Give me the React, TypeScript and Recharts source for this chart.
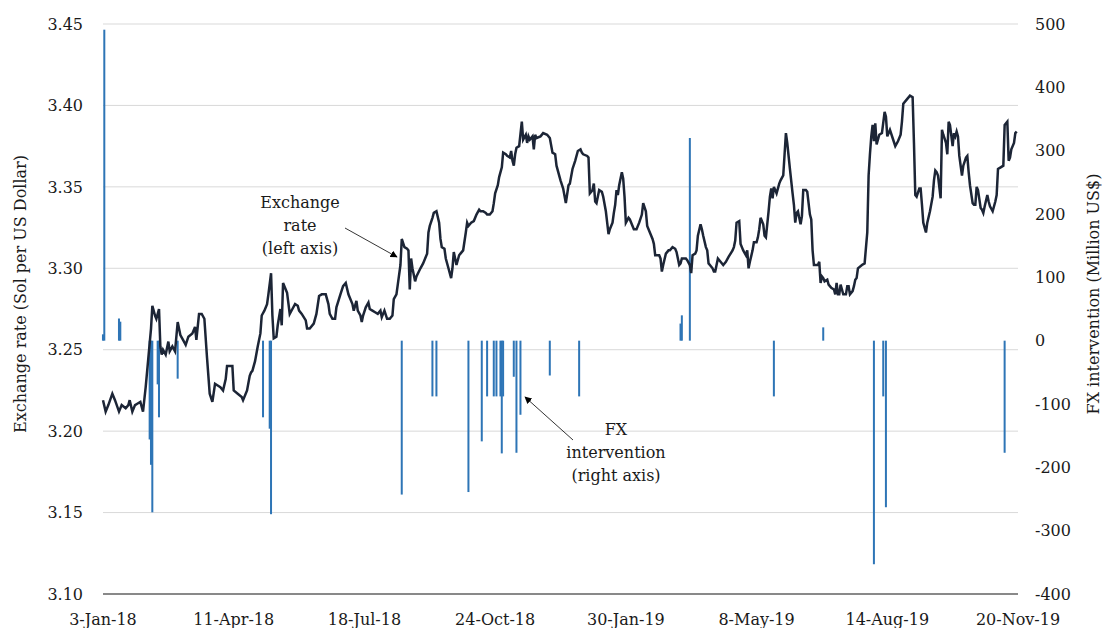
import { ComposedChart, Line, Bar, XAxis, YAxis, CartesianGrid } from 'recharts';

// x positions are days counted from 3-Jan-18
const tickDays = [0, 98, 196, 294, 392, 490, 588, 686];
const tickLabels = ['3-Jan-18', '11-Apr-18', '18-Jul-18', '24-Oct-18', '30-Jan-19', '8-May-19', '14-Aug-19', '20-Nov-19'];
const rateTicks = [3.1, 3.15, 3.2, 3.25, 3.3, 3.35, 3.4, 3.45];
const fxTicks = [-400, -300, -200, -100, 0, 100, 200, 300, 400, 500];

// [day, Sol per US Dollar]
const exchangeRate: [number, number][] = [
  [0, 3.219], [2, 3.212], [4, 3.216], [7, 3.223], [9, 3.219], [12, 3.212], [14, 3.216], [17, 3.214],
  [19, 3.216], [20, 3.219], [22, 3.212], [24, 3.216], [26, 3.217], [28, 3.218], [30, 3.212], [32, 3.227],
  [34, 3.245], [36, 3.263], [37, 3.277], [39, 3.271], [40, 3.269], [42, 3.275], [43, 3.252], [44, 3.247],
  [45, 3.25], [47, 3.247], [49, 3.255], [50, 3.249], [52, 3.252], [54, 3.249], [56, 3.267], [58, 3.259],
  [60, 3.256], [62, 3.253], [64, 3.258], [67, 3.26], [69, 3.264], [70, 3.256], [72, 3.272], [74, 3.272],
  [76, 3.269], [78, 3.245], [80, 3.223], [82, 3.218], [84, 3.229], [86, 3.228], [88, 3.227], [90, 3.225],
  [92, 3.232], [93, 3.24], [97, 3.24], [98, 3.225], [101, 3.223], [104, 3.221], [105, 3.219], [108, 3.225],
  [110, 3.234], [111, 3.236], [112, 3.237], [114, 3.243], [116, 3.252], [118, 3.26], [119, 3.271], [121, 3.274],
  [123, 3.278], [124, 3.284], [126, 3.297], [127, 3.271], [128, 3.257], [130, 3.258], [131, 3.265], [133, 3.275],
  [134, 3.265], [135, 3.291], [137, 3.287], [138, 3.285], [140, 3.272], [142, 3.275], [144, 3.278], [146, 3.277],
  [147, 3.274], [149, 3.272], [152, 3.268], [153, 3.263], [155, 3.263], [158, 3.266], [160, 3.272], [162, 3.283],
  [164, 3.284], [167, 3.284], [169, 3.278], [170, 3.272], [172, 3.269], [174, 3.269], [175, 3.276], [178, 3.284],
  [180, 3.289], [182, 3.291], [184, 3.284], [187, 3.278], [188, 3.274], [190, 3.28], [191, 3.274], [193, 3.271],
  [194, 3.267], [195, 3.271], [197, 3.276], [199, 3.279], [200, 3.275], [202, 3.274], [204, 3.273], [206, 3.272],
  [208, 3.274], [209, 3.27], [211, 3.274], [213, 3.269], [215, 3.269], [217, 3.271], [218, 3.281], [220, 3.284],
  [221, 3.29], [223, 3.302], [224, 3.318], [226, 3.313], [228, 3.312], [229, 3.311], [230, 3.287], [231, 3.306],
  [232, 3.3], [234, 3.292], [235, 3.295], [238, 3.3], [240, 3.303], [243, 3.309], [244, 3.322], [245, 3.326],
  [247, 3.331], [248, 3.334], [250, 3.335], [252, 3.328], [253, 3.318], [254, 3.313], [256, 3.312], [257, 3.306],
  [259, 3.3], [261, 3.294], [262, 3.3], [263, 3.31], [265, 3.302], [267, 3.308], [268, 3.309], [270, 3.311],
  [272, 3.322], [273, 3.328], [274, 3.326], [276, 3.328], [278, 3.329], [280, 3.333], [282, 3.336], [283, 3.335],
  [285, 3.335], [287, 3.334], [288, 3.333], [290, 3.333], [292, 3.335], [293, 3.34], [294, 3.346], [296, 3.351],
  [297, 3.356], [299, 3.362], [300, 3.371], [302, 3.37], [303, 3.369], [305, 3.368], [306, 3.372], [307, 3.366],
  [308, 3.363], [309, 3.37], [310, 3.374], [312, 3.375], [314, 3.39], [315, 3.379], [317, 3.382], [318, 3.377],
  [319, 3.381], [320, 3.379], [322, 3.381], [323, 3.373], [324, 3.382], [325, 3.38], [328, 3.381], [330, 3.383],
  [333, 3.382], [335, 3.38], [337, 3.371], [339, 3.37], [340, 3.363], [343, 3.354], [345, 3.349], [347, 3.34],
  [349, 3.351], [350, 3.352], [352, 3.361], [354, 3.366], [356, 3.372], [358, 3.373], [359, 3.371], [360, 3.37],
  [363, 3.369], [364, 3.368], [365, 3.346], [367, 3.348], [368, 3.352], [369, 3.341], [370, 3.34], [372, 3.348],
  [374, 3.347], [375, 3.344], [377, 3.335], [378, 3.328], [379, 3.321], [380, 3.324], [382, 3.328], [383, 3.334],
  [384, 3.339], [385, 3.348], [386, 3.345], [387, 3.351], [389, 3.359], [390, 3.355], [391, 3.344], [392, 3.328],
  [394, 3.331], [395, 3.33], [397, 3.326], [398, 3.324], [400, 3.324], [402, 3.328], [404, 3.333], [405, 3.34],
  [407, 3.335], [408, 3.326], [410, 3.322], [412, 3.318], [413, 3.315], [414, 3.308], [417, 3.308], [418, 3.306],
  [419, 3.298], [420, 3.302], [422, 3.309], [424, 3.311], [425, 3.311], [427, 3.313], [429, 3.312], [430, 3.31],
  [432, 3.302], [433, 3.303], [434, 3.306], [437, 3.306], [438, 3.305], [440, 3.302], [441, 3.297], [442, 3.308],
  [444, 3.309], [445, 3.311], [446, 3.32], [448, 3.327], [449, 3.324], [450, 3.32], [452, 3.313], [453, 3.311],
  [454, 3.303], [455, 3.302], [457, 3.3], [458, 3.298], [459, 3.298], [460, 3.302], [461, 3.306], [463, 3.304],
  [465, 3.302], [467, 3.304], [469, 3.307], [472, 3.311], [473, 3.313], [474, 3.317], [475, 3.328], [477, 3.329],
  [478, 3.315], [480, 3.311], [482, 3.308], [483, 3.311], [484, 3.3], [485, 3.304], [487, 3.311], [488, 3.316],
  [490, 3.316], [491, 3.319], [492, 3.324], [493, 3.331], [495, 3.327], [496, 3.32], [497, 3.319], [499, 3.335],
  [500, 3.344], [501, 3.349], [502, 3.343], [503, 3.35], [505, 3.346], [507, 3.352], [508, 3.354], [510, 3.357],
  [511, 3.37], [512, 3.383], [513, 3.377], [515, 3.361], [517, 3.346], [518, 3.339], [519, 3.328], [520, 3.334],
  [521, 3.335], [523, 3.327], [524, 3.332], [525, 3.348], [527, 3.348], [528, 3.347], [530, 3.333], [531, 3.33],
  [532, 3.311], [533, 3.302], [534, 3.302], [536, 3.302], [537, 3.304], [538, 3.291], [539, 3.295], [540, 3.294],
  [541, 3.292], [543, 3.293], [544, 3.29], [546, 3.288], [548, 3.287], [549, 3.284], [550, 3.291], [551, 3.284],
  [552, 3.284], [553, 3.29], [555, 3.284], [557, 3.284], [558, 3.289], [559, 3.289], [560, 3.284], [562, 3.286],
  [563, 3.289], [564, 3.293], [565, 3.294], [566, 3.3], [569, 3.302], [571, 3.303], [573, 3.322], [574, 3.357],
  [575, 3.37], [576, 3.381], [577, 3.388], [578, 3.378], [579, 3.389], [580, 3.376], [582, 3.382], [584, 3.383],
  [586, 3.396], [587, 3.393], [588, 3.381], [590, 3.385], [592, 3.38], [594, 3.375], [596, 3.378], [598, 3.382],
  [599, 3.39], [600, 3.401], [603, 3.404], [605, 3.406], [607, 3.405], [608, 3.377], [609, 3.345], [610, 3.344],
  [612, 3.349], [613, 3.349], [614, 3.339], [615, 3.328], [617, 3.322], [618, 3.328], [620, 3.335], [622, 3.344],
  [623, 3.354], [624, 3.36], [625, 3.359], [626, 3.357], [628, 3.343], [629, 3.385], [630, 3.382], [632, 3.377],
  [633, 3.37], [634, 3.39], [635, 3.388], [637, 3.375], [638, 3.383], [639, 3.381], [640, 3.384], [641, 3.381],
  [642, 3.369], [644, 3.357], [645, 3.363], [647, 3.368], [648, 3.369], [649, 3.359], [650, 3.351], [652, 3.34],
  [653, 3.339], [654, 3.339], [655, 3.35], [656, 3.348], [658, 3.337], [659, 3.336], [660, 3.334], [661, 3.338],
  [663, 3.345], [664, 3.341], [665, 3.338], [667, 3.335], [669, 3.341], [670, 3.345], [671, 3.361], [673, 3.362],
  [675, 3.363], [676, 3.388], [678, 3.39], [679, 3.366], [680, 3.368], [681, 3.373], [683, 3.377], [684, 3.383],
  [685, 3.384],
];

// [day, Million US$]
const fxIntervention: [number, number][] = [
  [0, 10], [1, 491], [12, 35], [13, 30], [35, -156], [36, -196], [37, -271], [41, -69], [42, -121], [56, -60],
  [120, -121], [125, -139], [126, -274], [224, -243], [247, -88], [250, -88], [274, -239], [284, -159],
  [288, -88], [293, -88], [295, -88], [298, -88], [299, -178], [300, -88], [308, -57], [310, -177], [313, -117],
  [335, -55], [357, -88], [433, 27], [434, 40], [440, 320], [503, -88], [540, 21], [578, -353], [585, -88],
  [587, -263], [676, -177],
];

type Row = { day: number; rate?: number; fx?: number };
const byDay = new Map<number, Row>();
exchangeRate.forEach(([day, rate]) => byDay.set(day, { day, rate }));
fxIntervention.forEach(([day, fx]) => {
  const row = byDay.get(day) ?? { day };
  row.fx = fx;
  byDay.set(day, row);
});
const data = Array.from(byDay.values()).sort((a, b) => a.day - b.day);

const font = 'DejaVu Serif';
const tickStyle = { fontFamily: font, fontSize: 16, fill: '#1a1a1a' };

const FxBar = (props: any) => {
  const { x, y, width, height, fill } = props;
  if (height == null || isNaN(height)) return null;
  const top = Math.min(y, y + height);
  return <rect x={x + width / 2 - 1} y={top} width={2} height={Math.abs(height)} fill={fill} />;
};

const App = () => {
  return (
    <div style={{ position: 'absolute', left: 0, top: 0, width: 1102, height: 628, background: '#fff' }}>
      <ComposedChart width={1102} height={628} data={data} margin={{ top: 24, right: 24, bottom: 4, left: 43 }}>
        <CartesianGrid yAxisId="left" vertical={false} stroke="#d9d9d9" />
        <XAxis
          dataKey="day"
          type="number"
          domain={[0, 686]}
          ticks={tickDays}
          tickFormatter={(d: number) => tickLabels[tickDays.indexOf(d)]}
          height={30}
          padding={{ left: 0, right: 0 }}
          tickLine={false}
          tickSize={18}
          tickMargin={2}
          axisLine={{ stroke: '#262626' }}
          tick={tickStyle}
          interval={0}
        />
        <YAxis
          yAxisId="left"
          domain={[3.1, 3.45]}
          ticks={rateTicks}
          tickFormatter={(v: number) => v.toFixed(2)}
          width={60}
          axisLine={false}
          tickLine={false}
          tickSize={18}
          tickMargin={2}
          tick={tickStyle}
          interval={0}
        />
        <YAxis
          yAxisId="right"
          orientation="right"
          domain={[-400, 500]}
          ticks={fxTicks}
          width={60}
          axisLine={false}
          tickLine={false}
          tickSize={15}
          tickMargin={2}
          tick={tickStyle}
          interval={0}
        />
        <Bar yAxisId="right" dataKey="fx" fill="#2e75b6" shape={<FxBar />} isAnimationActive={false} />
        <Line
          yAxisId="left"
          dataKey="rate"
          type="linear"
          stroke="#1c2536"
          strokeWidth={2.5}
          dot={false}
          connectNulls
          isAnimationActive={false}
        />
      </ComposedChart>
      <svg
        width={1102}
        height={628}
        style={{ position: 'absolute', left: 0, top: 0, pointerEvents: 'none' }}
        fontFamily={font}
        fontSize={16}
        fill="#1a1a1a"
      >
        <defs>
          <marker id="arrow" viewBox="0 0 10 10" refX="9" refY="5" markerWidth="9" markerHeight="9" orient="auto">
            <path d="M0,0 L10,5 L0,10 z" fill="#000" />
          </marker>
        </defs>
        <text transform="translate(20,294) rotate(-90)" textAnchor="middle" dominantBaseline="central">
          Exchange rate (Sol per US Dollar)
        </text>
        <text transform="translate(1093,294) rotate(-90)" textAnchor="middle" dominantBaseline="central">
          FX intervention (Million US$)
        </text>
        <text x={300} y={208} textAnchor="middle">Exchange</text>
        <text x={300} y={231} textAnchor="middle">rate</text>
        <text x={300} y={254} textAnchor="middle">(left axis)</text>
        <line x1={345} y1={228} x2={397} y2={257} stroke="#000" strokeWidth={0.8} markerEnd="url(#arrow)" />
        <text x={616} y={435} textAnchor="middle">FX</text>
        <text x={616} y={458} textAnchor="middle">intervention</text>
        <text x={616} y={481} textAnchor="middle">(right axis)</text>
        <line x1={573} y1={440} x2={525} y2={397} stroke="#000" strokeWidth={0.8} markerEnd="url(#arrow)" />
      </svg>
    </div>
  );
};

export default App;
